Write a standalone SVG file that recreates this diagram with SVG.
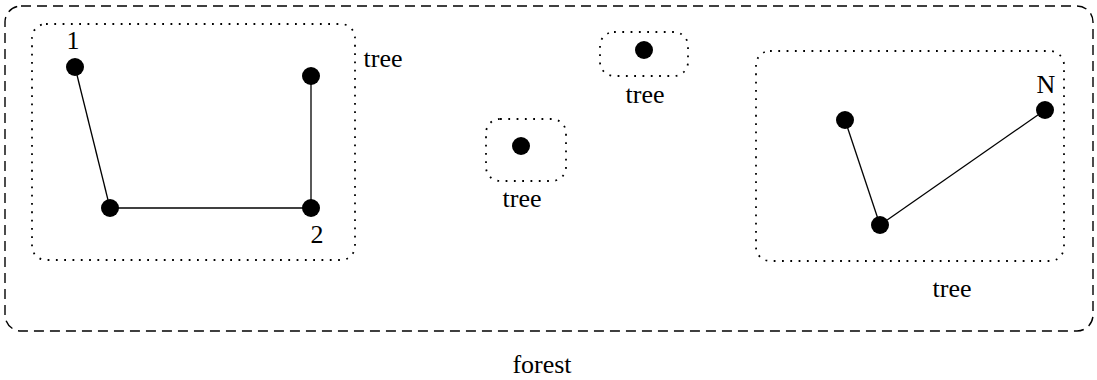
<svg xmlns="http://www.w3.org/2000/svg" width="1097" height="380" viewBox="0 0 1097 380">
<style>
.forest{fill:none;stroke:#000;stroke-width:1.4;stroke-dasharray:10,6}
.tree{fill:none;stroke:#000;stroke-width:1.8;stroke-dasharray:1.8,6.5}
.node{fill:#000}
.edge{stroke:#000;stroke-width:1.3}
text{font-family:"Liberation Serif","Times New Roman",serif;font-size:26px;fill:#000}
</style>
<rect width="1097" height="380" fill="#fff"/>
<g id="forest"><rect class="forest" x="5" y="6" width="1088" height="325" rx="16"/><text x="542" y="373" text-anchor="middle">forest</text></g>
<g id="tree1"><rect class="tree" x="32" y="24" width="323" height="236" rx="14"/><text x="383" y="67" text-anchor="middle">tree</text></g>
<g id="tree2"><rect class="tree" x="486" y="119" width="80" height="62" rx="14"/><text x="522" y="207" text-anchor="middle">tree</text></g>
<g id="tree3"><rect class="tree" x="600" y="32" width="88" height="44" rx="14"/><text x="645" y="103" text-anchor="middle">tree</text></g>
<g id="tree4"><rect class="tree" x="756" y="51" width="308" height="210" rx="14"/><text x="952" y="297" text-anchor="middle">tree</text></g>
<g id="connectors">
<line class="edge" x1="75" y1="67" x2="110" y2="208"/>
<line class="edge" x1="110" y1="208" x2="311" y2="208"/>
<line class="edge" x1="311" y1="76" x2="311" y2="208"/>
<line class="edge" x1="845" y1="120" x2="880" y2="225"/>
<line class="edge" x1="880" y1="225" x2="1045" y2="110"/>
</g>
<g id="n1"><circle class="node" cx="75" cy="67" r="9"/><text x="73" y="49" text-anchor="middle">1</text></g>
<g id="n2"><circle class="node" cx="110" cy="208" r="9"/></g>
<g id="n3"><circle class="node" cx="311" cy="76" r="9"/></g>
<g id="n4"><circle class="node" cx="311" cy="208" r="9"/><text x="317" y="243" text-anchor="middle">2</text></g>
<g id="n5"><circle class="node" cx="521" cy="146" r="9"/></g>
<g id="n6"><circle class="node" cx="644" cy="50" r="9"/></g>
<g id="n7"><circle class="node" cx="845" cy="120" r="9"/></g>
<g id="n8"><circle class="node" cx="880" cy="225" r="9"/></g>
<g id="n9"><circle class="node" cx="1045" cy="110" r="9"/><text x="1046" y="93" text-anchor="middle">N</text></g>
</svg>
